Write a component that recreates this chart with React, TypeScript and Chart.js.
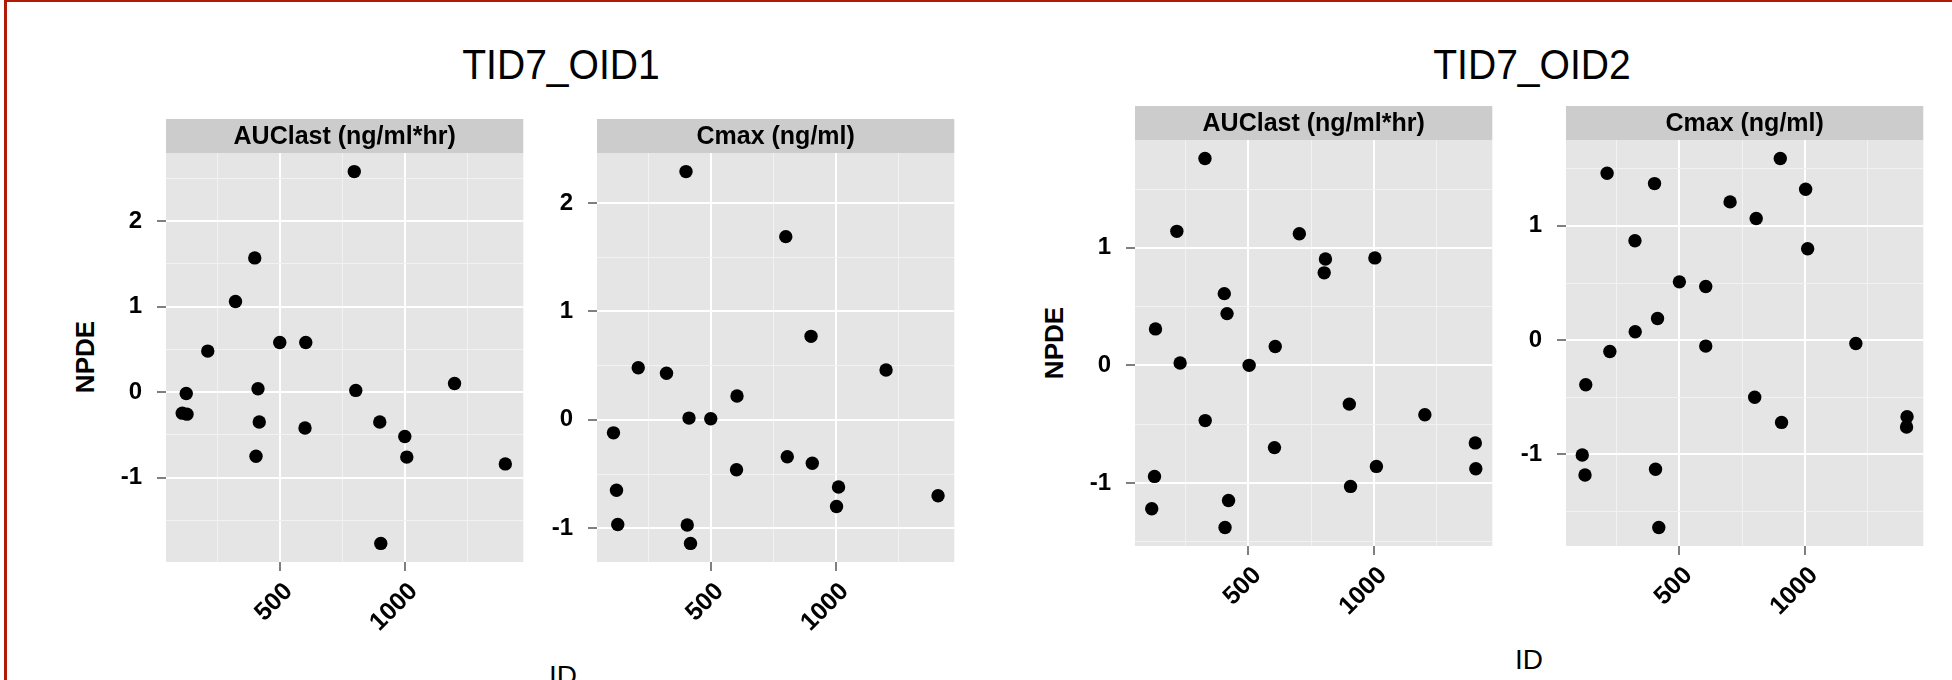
import React, { useEffect, useRef } from 'react';
import { Chart, registerables } from 'chart.js';

Chart.register(...registerables);

// ---------------- data ----------------
const plotTitles = ['TID7_OID1', 'TID7_OID2'];
const facetLabels = ['AUClast (ng/ml*hr)', 'Cmax (ng/ml)'];
const yAxisTitle = 'NPDE';
const xAxisTitle = 'ID';
const xMajorTicks = [500, 1000];
const xMinorTicks = [250, 750, 1250];

const oid1AucId = [798, 400, 323, 212, 500, 604, 126, 110, 129, 413, 418, 405, 601, 804, 900, 1000, 1008, 1199, 1402, 904];
const oid1AucNpde = [2.58, 1.57, 1.06, 0.48, 0.58, 0.58, -0.016, -0.246, -0.258, 0.04, -0.35, -0.75, -0.42, 0.02, -0.35, -0.52, -0.76, 0.10, -0.84, -1.77];

const oid1CmaxId = [401, 800, 901, 210, 323, 1201, 605, 413, 500, 111, 806, 906, 603, 123, 1011, 1409, 1003, 128, 406, 419];
const oid1CmaxNpde = [2.29, 1.69, 0.77, 0.48, 0.43, 0.46, 0.22, 0.016, 0.01, -0.12, -0.34, -0.40, -0.46, -0.65, -0.62, -0.70, -0.80, -0.965, -0.97, -1.14];

const oid2AucId = [327, 215, 703, 807, 802, 1004, 404, 415, 130, 607, 228, 503, 902, 1203, 328, 604, 1404, 1406, 1010, 126, 907, 115, 421, 407];
const oid2AucNpde = [1.76, 1.14, 1.12, 0.905, 0.787, 0.914, 0.61, 0.44, 0.31, 0.16, 0.02, 0.0, -0.33, -0.42, -0.47, -0.70, -0.66, -0.88, -0.86, -0.945, -1.03, -1.22, -1.15, -1.38];

const oid2CmaxId = [902, 212, 401, 1003, 702, 806, 323, 1011, 500, 605, 413, 324, 605, 1203, 223, 127, 800, 907, 1407, 1405, 113, 124, 405, 418];
const oid2CmaxNpde = [1.59, 1.46, 1.37, 1.32, 1.21, 1.065, 0.87, 0.80, 0.51, 0.47, 0.19, 0.073, -0.052, -0.03, -0.10, -0.39, -0.50, -0.72, -0.67, -0.76, -1.005, -1.18, -1.13, -1.64];

// ---------------- layout ----------------
const FONT = "'Liberation Sans', Arial, Helvetica, sans-serif";
const PANEL_W = 364;
const Y_AXIS_W = 70;
const X_AXIS_H = 80;
const STRIP_H = 34;

type PanelSpec = {
  ids: number[];
  npde: number[];
  label: string;
  left: number;
  top: number;
  bottom: number;
  xMin: number;
  xMax: number;
};

function expand(lo: number, hi: number) {
  const r = hi - lo;
  return [lo - 0.05 * r, hi + 0.05 * r];
}

function buildPlot(
  a: [number[], number[]],
  b: [number[], number[]],
  lefts: number[],
  top: number,
  bottom: number
): PanelSpec[] {
  const allIds = [...a[0], ...b[0]];
  const [xMin, xMax] = expand(Math.min(...allIds), Math.max(...allIds));
  return [a, b].map((d, i) => ({
    ids: d[0],
    npde: d[1],
    label: facetLabels[i],
    left: lefts[i],
    top,
    bottom,
    xMin,
    xMax,
  }));
}

const plot1 = buildPlot([oid1AucId, oid1AucNpde], [oid1CmaxId, oid1CmaxNpde], [166, 597], 153, 562);
const plot2 = buildPlot([oid2AucId, oid2AucNpde], [oid2CmaxId, oid2CmaxNpde], [1135, 1566], 140, 546);

const panelPlugin = {
  id: 'ggpanel',
  beforeDraw(chart: any) {
    const { ctx, chartArea } = chart;
    const opts = chart.options.plugins.ggpanel;
    ctx.save();
    ctx.fillStyle = '#e5e5e5';
    ctx.fillRect(chartArea.left, chartArea.top, chartArea.right - chartArea.left, chartArea.bottom - chartArea.top);
    ctx.fillStyle = '#cccccc';
    ctx.fillRect(chartArea.left, chartArea.top - STRIP_H, chartArea.right - chartArea.left, STRIP_H);
    ctx.fillStyle = '#000000';
    ctx.font = `bold 25px ${FONT}`;
    ctx.textAlign = 'center';
    ctx.textBaseline = 'middle';
    ctx.fillText(opts.text, (chartArea.left + chartArea.right) / 2, chartArea.top - STRIP_H / 2 + 1);
    ctx.restore();
  },
};

const yTickFont = { family: FONT, size: 24, weight: 'bold' as const };
const xTickFont = { family: FONT, size: 25, weight: 'bold' as const };

function Panel({ spec }: { spec: PanelSpec }) {
  const ref = useRef<HTMLCanvasElement>(null);
  const cLeft = spec.left - Y_AXIS_W;
  const cTop = spec.top - STRIP_H - 2;
  const cW = Y_AXIS_W + PANEL_W;
  const cH = spec.bottom - cTop + X_AXIS_H;

  useEffect(() => {
    const [yMin, yMax] = expand(Math.min(...spec.npde), Math.max(...spec.npde));
    const yTicks: number[] = [];
    for (let v = Math.ceil(yMin * 2) / 2; v <= yMax + 1e-9; v += 0.5) yTicks.push(Math.round(v * 2) / 2);
    const xTicks = [...xMinorTicks, ...xMajorTicks].sort((p, q) => p - q);
    const isMajorX = (v: number) => xMajorTicks.includes(v);
    const isMajorY = (v: number) => Number.isInteger(v);

    const chart = new Chart(ref.current as HTMLCanvasElement, {
      type: 'scatter',
      data: {
        datasets: [
          {
            data: spec.ids.map((x, i) => ({ x, y: spec.npde[i] })),
            pointRadius: 6.7,
            pointHoverRadius: 6.7,
            pointBackgroundColor: '#000000',
            pointBorderWidth: 0,
            borderColor: '#000000',
          },
        ],
      },
      options: {
        animation: false,
        responsive: false,
        events: [],
        layout: { padding: { top: STRIP_H + 2, left: 0, right: 0, bottom: 0 } },
        plugins: {
          legend: { display: false },
          tooltip: { enabled: false },
          ggpanel: { text: spec.label },
        } as any,
        scales: {
          x: {
            type: 'linear',
            min: spec.xMin,
            max: spec.xMax,
            afterBuildTicks: (s: any) => {
              s.ticks = xTicks.map((v) => ({ value: v }));
            },
            afterFit: (s: any) => {
              s.height = X_AXIS_H;
              s.paddingLeft = 0;
              s.paddingRight = 0;
              s.paddingTop = 0;
              s.paddingBottom = 0;
            },
            border: { display: false },
            grid: {
              drawTicks: true,
              tickLength: 9,
              color: (c: any) => (c.tick && isMajorX(c.tick.value) ? '#ffffff' : '#f2f2f2'),
              lineWidth: (c: any) => (c.tick && isMajorX(c.tick.value) ? 2 : 1),
              tickColor: (c: any) => (c.tick && isMajorX(c.tick.value) ? '#7f7f7f' : 'rgba(0,0,0,0)'),
              tickWidth: 2,
            },
            ticks: {
              autoSkip: false,
              minRotation: 45,
              maxRotation: 45,
              padding: 6,
              labelOffset: 9,
              color: '#000000',
              font: xTickFont,
              callback: (v: any) => (isMajorX(Number(v)) ? String(v) : ''),
            },
          },
          y: {
            type: 'linear',
            min: yMin,
            max: yMax,
            afterBuildTicks: (s: any) => {
              s.ticks = yTicks.map((v) => ({ value: v }));
            },
            afterFit: (s: any) => {
              s.width = Y_AXIS_W;
              s.paddingTop = 0;
              s.paddingBottom = 0;
              s.paddingLeft = 0;
              s.paddingRight = 0;
            },
            border: { display: false },
            grid: {
              drawTicks: true,
              tickLength: 9,
              color: (c: any) => (c.tick && isMajorY(c.tick.value) ? '#ffffff' : '#f2f2f2'),
              lineWidth: (c: any) => (c.tick && isMajorY(c.tick.value) ? 2 : 1),
              tickColor: (c: any) => (c.tick && isMajorY(c.tick.value) ? '#7f7f7f' : 'rgba(0,0,0,0)'),
              tickWidth: 2,
            },
            ticks: {
              padding: 15,
              color: '#000000',
              font: yTickFont,
              callback: (v: any) => (isMajorY(Number(v)) ? String(v) : ''),
            },
          },
        },
      } as any,
      plugins: [panelPlugin],
    });
    return () => chart.destroy();
  }, [spec]);

  return (
    <canvas
      ref={ref}
      width={cW}
      height={cH}
      style={{ position: 'absolute', left: cLeft, top: cTop, width: cW, height: cH }}
    />
  );
}

function Label({
  text,
  x,
  y,
  size,
  bold,
  rotate = 0,
  scaleX = 1,
}: {
  text: string;
  x: number;
  y: number;
  size: number;
  bold?: boolean;
  rotate?: number;
  scaleX?: number;
}) {
  return (
    <div
      style={{
        position: 'absolute',
        left: x,
        top: y,
        transform: `translate(-50%, -50%) rotate(${rotate}deg) scaleX(${scaleX})`,
        fontFamily: FONT,
        fontSize: size,
        fontWeight: bold ? 'bold' : 'normal',
        lineHeight: 1,
        whiteSpace: 'nowrap',
        color: '#000000',
      }}
    >
      {text}
    </div>
  );
}

export default function App() {
  return (
    <div
      style={{
        position: 'absolute',
        left: 0,
        top: 0,
        width: 1952,
        height: 680,
        overflow: 'hidden',
        background: '#ffffff',
      }}
    >
      <div style={{ position: 'absolute', left: 4, top: 0, width: 3, height: 680, background: '#b01a08' }} />
      <div style={{ position: 'absolute', left: 4, top: 0, width: 1948, height: 1.5, background: '#b01a08' }} />

      <Label text={plotTitles[0]} x={561} y={65} size={42} scaleX={0.93} />
      <Label text={plotTitles[1]} x={1532} y={65} size={42} scaleX={0.93} />

      <Label text={yAxisTitle} x={85} y={357} size={26} bold rotate={-90} />
      <Label text={yAxisTitle} x={1054} y={343} size={26} bold rotate={-90} />

      <Label text={xAxisTitle} x={563} y={676} size={28} />
      <Label text={xAxisTitle} x={1529} y={660} size={28} />

      {[...plot1, ...plot2].map((p, i) => (
        <Panel key={i} spec={p} />
      ))}
    </div>
  );
}
